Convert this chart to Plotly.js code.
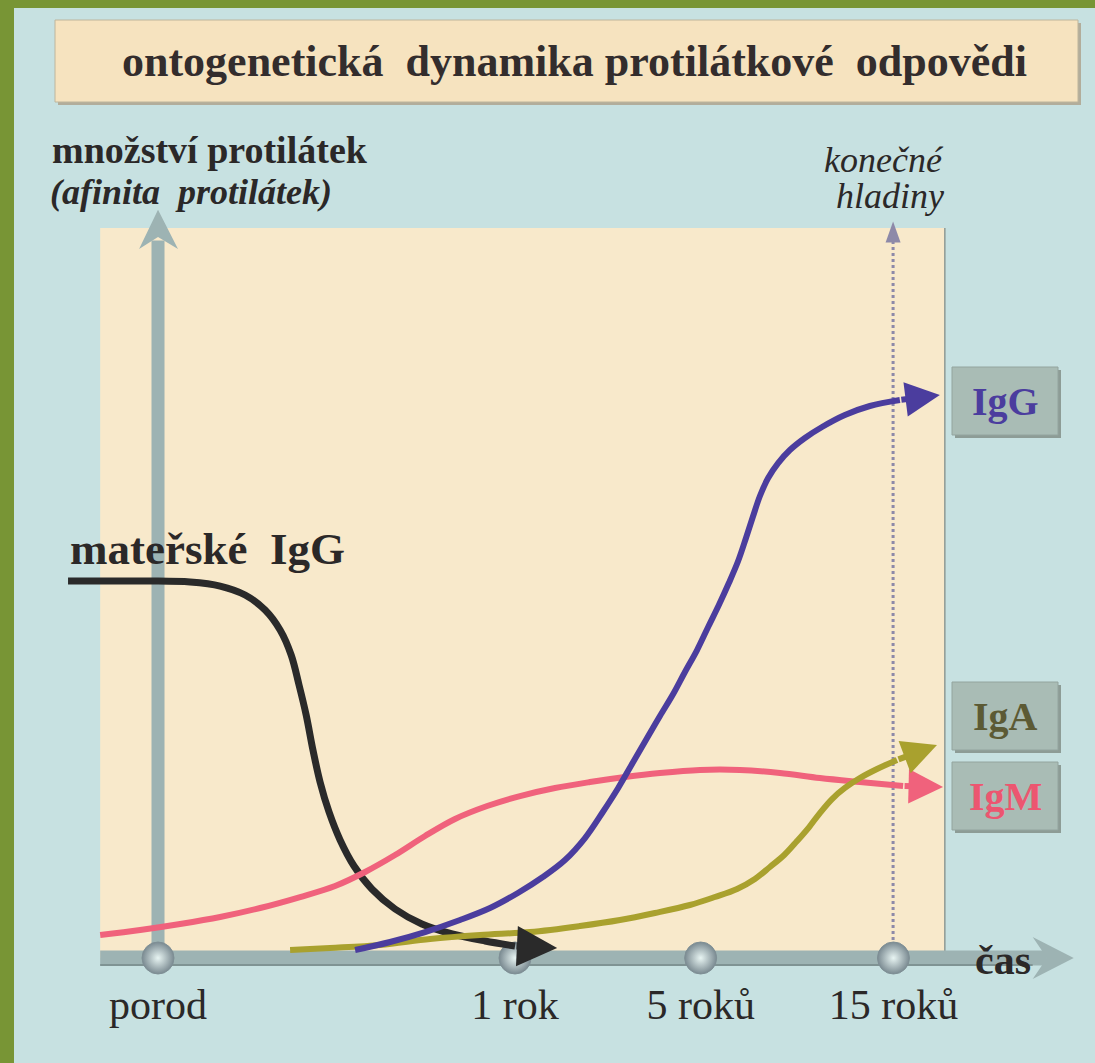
<!DOCTYPE html>
<html>
<head>
<meta charset="utf-8">
<script src="https://cdn.plot.ly/plotly-3.0.1.min.js"></script>
<style>html,body{margin:0;padding:0;background:#c7e1e1;}#chart{width:1095px;height:1063px;}</style>
</head>
<body>
<div id="chart"></div>
<script>
// ---- time axis (positions of the milestones on the drawn, non-linear time axis) ----
const tickLabels = ['porod', '1 rok', '5 roků', '15 roků'];
const tickPos = [0, 1, 1.52, 2.06];

// ---- curves (x = time position, y = relative amount) ----
const maternalX = [-0.252, -0.134, -0.022, 0.090, 0.174, 0.244, 0.300, 0.342, 0.373, 0.395, 0.415, 0.434, 0.454, 0.479, 0.510, 0.549, 0.599, 0.664, 0.739, 0.824, 0.916, 1.000];
const maternalY = [5.386, 5.386, 5.386, 5.371, 5.314, 5.186, 4.971, 4.686, 4.329, 3.900, 3.471, 2.971, 2.514, 2.086, 1.686, 1.314, 0.986, 0.700, 0.486, 0.343, 0.243, 0.171];
const maternalEnd = [1.118, 0.143];

const iggX = [0.552, 0.650, 0.748, 0.846, 0.930, 1.008, 1.078, 1.140, 1.196, 1.246, 1.289, 1.331, 1.370, 1.406, 1.443, 1.476, 1.510, 1.541, 1.571, 1.599, 1.625, 1.647, 1.667, 1.686, 1.709, 1.737, 1.770, 1.812, 1.860, 1.924, 1.994, 2.078];
const iggY = [0.114, 0.229, 0.371, 0.543, 0.714, 0.929, 1.157, 1.400, 1.714, 2.086, 2.429, 2.800, 3.143, 3.457, 3.771, 4.086, 4.400, 4.729, 5.043, 5.357, 5.671, 6.000, 6.314, 6.600, 6.857, 7.071, 7.257, 7.429, 7.586, 7.757, 7.886, 7.971];
const iggEnd = [2.190, 8.043];

const igmX = [-0.162, -0.050, 0.062, 0.174, 0.286, 0.398, 0.496, 0.580, 0.664, 0.748, 0.832, 0.922, 1.014, 1.112, 1.210, 1.308, 1.406, 1.518, 1.630, 1.742, 1.854, 1.966, 2.087];
const igmY = [0.329, 0.400, 0.486, 0.586, 0.714, 0.871, 1.029, 1.229, 1.471, 1.743, 1.986, 2.171, 2.314, 2.429, 2.514, 2.586, 2.643, 2.686, 2.686, 2.643, 2.571, 2.514, 2.457];
const igmEnd = [2.199, 2.443];

const igaX = [0.370, 0.482, 0.622, 0.762, 0.902, 1.042, 1.182, 1.294, 1.392, 1.490, 1.560, 1.622, 1.672, 1.714, 1.754, 1.790, 1.824, 1.854, 1.888, 1.924, 1.966, 2.014, 2.070];
const igaY = [0.114, 0.143, 0.186, 0.271, 0.329, 0.371, 0.457, 0.543, 0.643, 0.757, 0.871, 0.986, 1.129, 1.300, 1.471, 1.671, 1.871, 2.071, 2.271, 2.429, 2.571, 2.700, 2.829];
const igaEnd = [2.182, 3.043];

// ---- styling ----
const W = 1095, H = 1063;
const px = v => v / W;
const py = v => 1 - v / H;
const serif = 'Liberation Serif, Times New Roman, serif';
const txt = '#2b2828';
const C = {black: '#2a2a2a', igg: '#4b3d9e', igm: '#f0627c', iga: '#a9a12e'};

const xRange = [-0.4426, 2.6246];
const yRange = [-1.5, 13.686];

const curves = [
  {x: maternalX, y: maternalY, end: maternalEnd, color: C.black, w: 7, name: 'mateřské IgG'},
  {x: igmX, y: igmY, end: igmEnd, color: C.igm, w: 6, name: 'IgM'},
  {x: igaX, y: igaY, end: igaEnd, color: C.iga, w: 6, name: 'IgA'},
  {x: iggX, y: iggY, end: iggEnd, color: C.igg, w: 6, name: 'IgG'}
];

const traces = [{
  x: tickPos, y: tickPos.map(() => 0), mode: 'markers', hoverinfo: 'skip', showlegend: false,
  marker: {size: 32, color: '#7a8a91', gradient: {type: 'radial', color: '#e8f5f3'}, line: {width: 1, color: '#7f8f95'}}
}];
curves.forEach(c => traces.push({
  x: c.x, y: c.y, mode: 'lines', name: c.name, showlegend: false, hoverinfo: 'skip',
  line: {color: c.color, width: c.w, shape: 'spline', smoothing: 1}
}));

const annotations = [];
curves.forEach(c => annotations.push({
  x: c.end[0], y: c.end[1], ax: c.x[c.x.length - 1], ay: c.y[c.y.length - 1],
  xref: 'x', yref: 'y', axref: 'x', ayref: 'y', text: '', showarrow: true,
  arrowhead: 2, arrowsize: 1.15, arrowwidth: c.w, arrowcolor: c.color, standoff: 0
}));

function label(text, x, y, opts) {
  annotations.push(Object.assign({
    text: text, x: px(x), y: py(y), xref: 'paper', yref: 'paper', showarrow: false,
    xanchor: 'center', yanchor: 'middle', font: {family: serif, size: 40, color: txt}
  }, opts || {}));
}
const nb = '\u00a0';
label('<b>ontogenetická' + nb + nb + 'dynamika protilátkové' + nb + nb + 'odpovědi</b>', 574, 62, {font: {family: serif, size: 44, color: '#332d2d'}});
label('<b>množství protilátek</b>', 50, 150, {xanchor: 'left', font: {family: serif, size: 38, color: txt}});
label('<b><i>(afinita' + nb + nb + 'protilátek)</i></b>', 48, 192, {xanchor: 'left', font: {family: serif, size: 36, color: txt}});
label('<i>konečné</i>', 946, 160, {xanchor: 'right', font: {family: serif, size: 36, color: txt}});
label('<i>hladiny</i>', 946, 196, {xanchor: 'right', font: {family: serif, size: 36, color: txt}});
label('<b>mateřské' + nb + nb + 'IgG</b>', 68, 549, {xanchor: 'left', font: {family: serif, size: 45, color: txt}});
label('<b>čas</b>', 973, 960, {xanchor: 'left', font: {family: serif, size: 42, color: txt}});
label('<b>IgG</b>', 1005, 401, {font: {family: serif, size: 40, color: C.igg}});
label('<b>IgA</b>', 1005, 716, {font: {family: serif, size: 40, color: '#5c5a34'}});
label('<b>IgM</b>', 1005, 796, {font: {family: serif, size: 40, color: '#ec5670'}});

const axisC = '#9db3b3';
const shapes = [
  // green frame
  {type: 'rect', xref: 'paper', yref: 'paper', x0: 0, x1: px(14), y0: 0, y1: 1, fillcolor: '#789535', line: {width: 0}, layer: 'below'},
  {type: 'rect', xref: 'paper', yref: 'paper', x0: 0, x1: 1, y0: py(8), y1: 1, fillcolor: '#789535', line: {width: 0}, layer: 'below'},
  // title box
  {type: 'rect', xref: 'paper', yref: 'paper', x0: px(58), x1: px(1081), y0: py(105), y1: py(23), fillcolor: '#b2ad9b', line: {width: 0}, layer: 'below'},
  {type: 'rect', xref: 'paper', yref: 'paper', x0: px(55), x1: px(1078), y0: py(102), y1: py(20), fillcolor: '#f6e3bf', line: {width: 1, color: '#bdb59c'}, layer: 'below'},
  // beige plot panel
  {type: 'rect', xref: 'x', yref: 'y', x0: -0.162, x1: 2.204, y0: 0, y1: 10.43, fillcolor: '#f8e9cb', line: {width: 0}, layer: 'below'},
  {type: 'line', xref: 'x', yref: 'y', x0: 2.204, x1: 2.204, y0: 0, y1: 10.43, line: {width: 1.5, color: '#8e9994'}, layer: 'below'},
  // label boxes
  ...[[367, 435], [682, 750], [762, 830]].flatMap(b => [
    {type: 'rect', xref: 'paper', yref: 'paper', x0: px(955), x1: px(1061), y0: py(b[1] + 3), y1: py(b[0] + 3), fillcolor: '#8d9c96', line: {width: 0}, layer: 'below'},
    {type: 'rect', xref: 'paper', yref: 'paper', x0: px(952), x1: px(1058), y0: py(b[1]), y1: py(b[0]), fillcolor: '#a9bcb5', line: {width: 1, color: '#93a49e'}, layer: 'below'}
  ]),
  // y axis arrow
  {type: 'line', xref: 'x', yref: 'y', x0: 0, x1: 0, y0: 0, y1: 10.25, line: {width: 13, color: axisC}, layer: 'below'},
  {type: 'path', xref: 'x', yref: 'y', path: 'M -0.053,10.13 L 0,10.69 L 0.056,10.13 L 0,10.3 Z', fillcolor: axisC, line: {width: 0}, layer: 'below'},
  // x axis arrow
  {type: 'line', xref: 'x', yref: 'y', x0: -0.162, x1: 2.49, y0: 0, y1: 0, line: {width: 15, color: axisC}, layer: 'below'},
  {type: 'line', xref: 'x', yref: 'y', x0: -0.162, x1: 2.45, y0: -0.1, y1: -0.1, line: {width: 2, color: '#7f9393'}, layer: 'below'},
  {type: 'path', xref: 'x', yref: 'y', path: 'M 2.45,0.3 L 2.565,0 L 2.45,-0.3 L 2.49,0 Z', fillcolor: axisC, line: {width: 0}, layer: 'below'},
  // dotted "final levels" marker
  {type: 'line', xref: 'x', yref: 'y', x0: 2.059, x1: 2.059, y0: 0, y1: 10.3, line: {width: 3, color: '#8d89a8', dash: 'dot'}, layer: 'below'},
  {type: 'path', xref: 'x', yref: 'y', path: 'M 2.038,10.22 L 2.059,10.52 L 2.08,10.22 Z', fillcolor: '#8d89a8', line: {width: 0}, layer: 'below'}
];

const layout = {
  width: W, height: H, margin: {l: 0, r: 0, t: 0, b: 0},
  paper_bgcolor: '#c7e1e1', plot_bgcolor: 'rgba(0,0,0,0)',
  showlegend: false,
  xaxis: {
    range: xRange, domain: [0, 1], anchor: 'free', position: 1 - 958 / H,
    showgrid: false, zeroline: false, showline: false, ticks: '',
    tickmode: 'array', tickvals: tickPos, ticktext: tickLabels,
    tickfont: {family: serif, size: 42, color: txt}, ticklabelstandoff: 18, fixedrange: true
  },
  yaxis: {range: yRange, domain: [0, 1], visible: false, fixedrange: true},
  shapes: shapes, annotations: annotations
};

Plotly.newPlot('chart', traces, layout, {displayModeBar: false, staticPlot: true});
</script>
</body>
</html>
